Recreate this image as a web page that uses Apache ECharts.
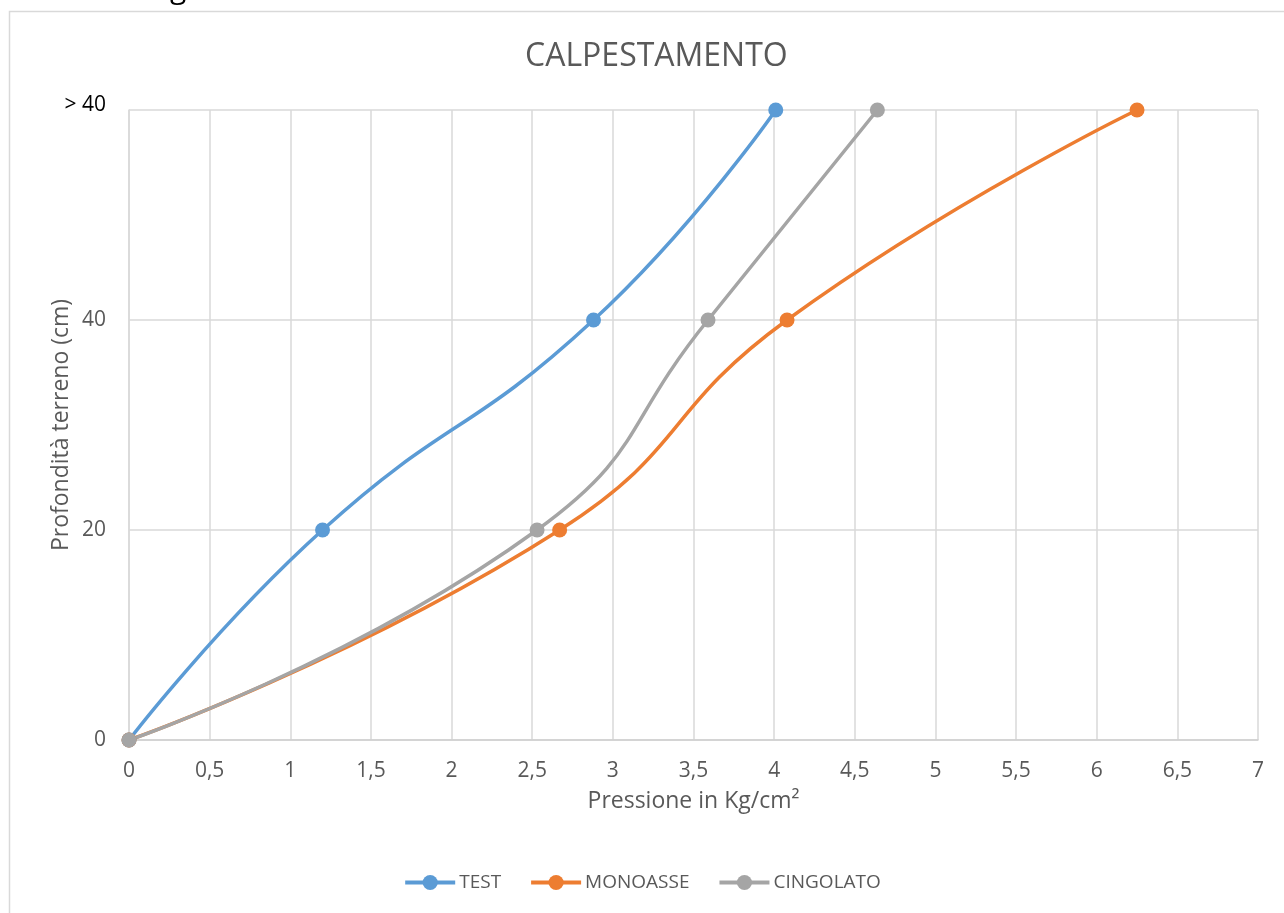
<!DOCTYPE html>
<html>
<head>
<meta charset="utf-8">
<script src="https://cdn.jsdelivr.net/npm/echarts@6/dist/echarts.min.js"></script>
<style>
  html, body { margin: 0; padding: 0; background: #ffffff; }
  #chart { width: 1284px; height: 913px; }
</style>
</head>
<body>
<div id="chart"></div>
<script>
// Depth levels (cm) and pressure readings (Kg/cm²) for each configuration
const depths = [0, 20, 40, 60];
const depthLabels = { 0: '0', 20: '20', 40: '40', 60: '> 40' };
const pressureTest = [0, 1.2, 2.88, 4.01];
const pressureMonoasse = [0, 2.67, 4.08, 6.25];
const pressureCingolato = [0, 2.53, 3.59, 4.64];
const seriesNames = ['TEST', 'MONOASSE', 'CINGOLATO'];
const seriesColors = ['#5B9BD5', '#ED7D31', '#A5A5A5'];

const FONT = '"Open Sans", "Noto Sans", sans-serif';

function pairs(xs) {
  return xs.map((x, i) => [x, depths[i]]);
}

function lineSeries(name, xs, color) {
  return {
    name: name,
    type: 'line',
    data: pairs(xs),
    smooth: 0.5,
    symbol: 'circle',
    symbolSize: 15,
    lineStyle: { color: color, width: 3.5 },
    itemStyle: { color: color },
    emphasis: { disabled: true }
  };
}

const chart = echarts.init(document.getElementById('chart'), null, { renderer: 'canvas' });

chart.setOption({
  animation: false,
  backgroundColor: '#ffffff',
  textStyle: { fontFamily: FONT },
  title: {
    text: 'CALPESTAMENTO',
    left: 520,
    top: 36,
    textStyle: { fontFamily: FONT, fontSize: 32, fontWeight: 'normal', color: '#595959' }
  },
  legend: {
    data: seriesNames,
    bottom: 16,
    left: 'center',
    itemWidth: 50,
    itemHeight: 19,
    itemGap: 28,
    lineStyle: { width: 4 },
    textStyle: { fontFamily: FONT, fontSize: 19, color: '#595959', padding: [0, 0, 0, -1] }
  },
  graphic: [
    {
      type: 'rect',
      shape: { x: 9.5, y: 11.5, width: 1400, height: 1000 },
      style: { fill: 'none', stroke: '#d9d9d9', lineWidth: 1.5 },
      silent: true
    },
    {
      type: 'text',
      left: 170,
      top: -26,
      style: { text: 'g', font: '30px ' + FONT, fill: '#000000' },
      silent: true
    }
  ],
  grid: { left: 129, right: 26, top: 110, bottom: 173, containLabel: false },
  xAxis: {
    type: 'value',
    min: 0,
    max: 7,
    interval: 0.5,
    name: 'Pressione in Kg/cm²',
    nameLocation: 'middle',
    nameGap: 50,
    nameMoveOverlap: false,
    nameTextStyle: { fontFamily: FONT, fontSize: 23, color: '#595959' },
    axisLine: { show: true, lineStyle: { color: '#d0d0d0', width: 1.5 } },
    axisTick: { show: false },
    axisLabel: {
      margin: 21,
      fontFamily: FONT,
      fontSize: 21,
      color: '#595959',
      formatter: v => String(v).replace('.', ',')
    },
    splitLine: { show: true, lineStyle: { color: '#d9d9d9', width: 1.5 } }
  },
  yAxis: {
    type: 'value',
    min: 0,
    max: 60,
    interval: 20,
    name: 'Profondità terreno (cm)',
    nameLocation: 'middle',
    nameGap: 56,
    nameMoveOverlap: false,
    nameTextStyle: { fontFamily: FONT, fontSize: 23, color: '#595959' },
    axisLine: { show: true, lineStyle: { color: '#d9d9d9', width: 1.5 } },
    axisTick: { show: false },
    axisLabel: {
      margin: 23,
      fontFamily: FONT,
      fontSize: 21,
      color: '#595959',
      formatter: v => v === 60 ? '{top|' + depthLabels[v] + '}' : depthLabels[v],
      rich: {
        top: { fontFamily: FONT, fontSize: 21, color: '#000000', padding: [0, 0, 10, 0] }
      }
    },
    splitLine: { show: true, lineStyle: { color: '#d9d9d9', width: 1.5 } }
  },
  series: [
    lineSeries(seriesNames[0], pressureTest, seriesColors[0]),
    lineSeries(seriesNames[1], pressureMonoasse, seriesColors[1]),
    lineSeries(seriesNames[2], pressureCingolato, seriesColors[2])
  ]
});
</script>
</body>
</html>
